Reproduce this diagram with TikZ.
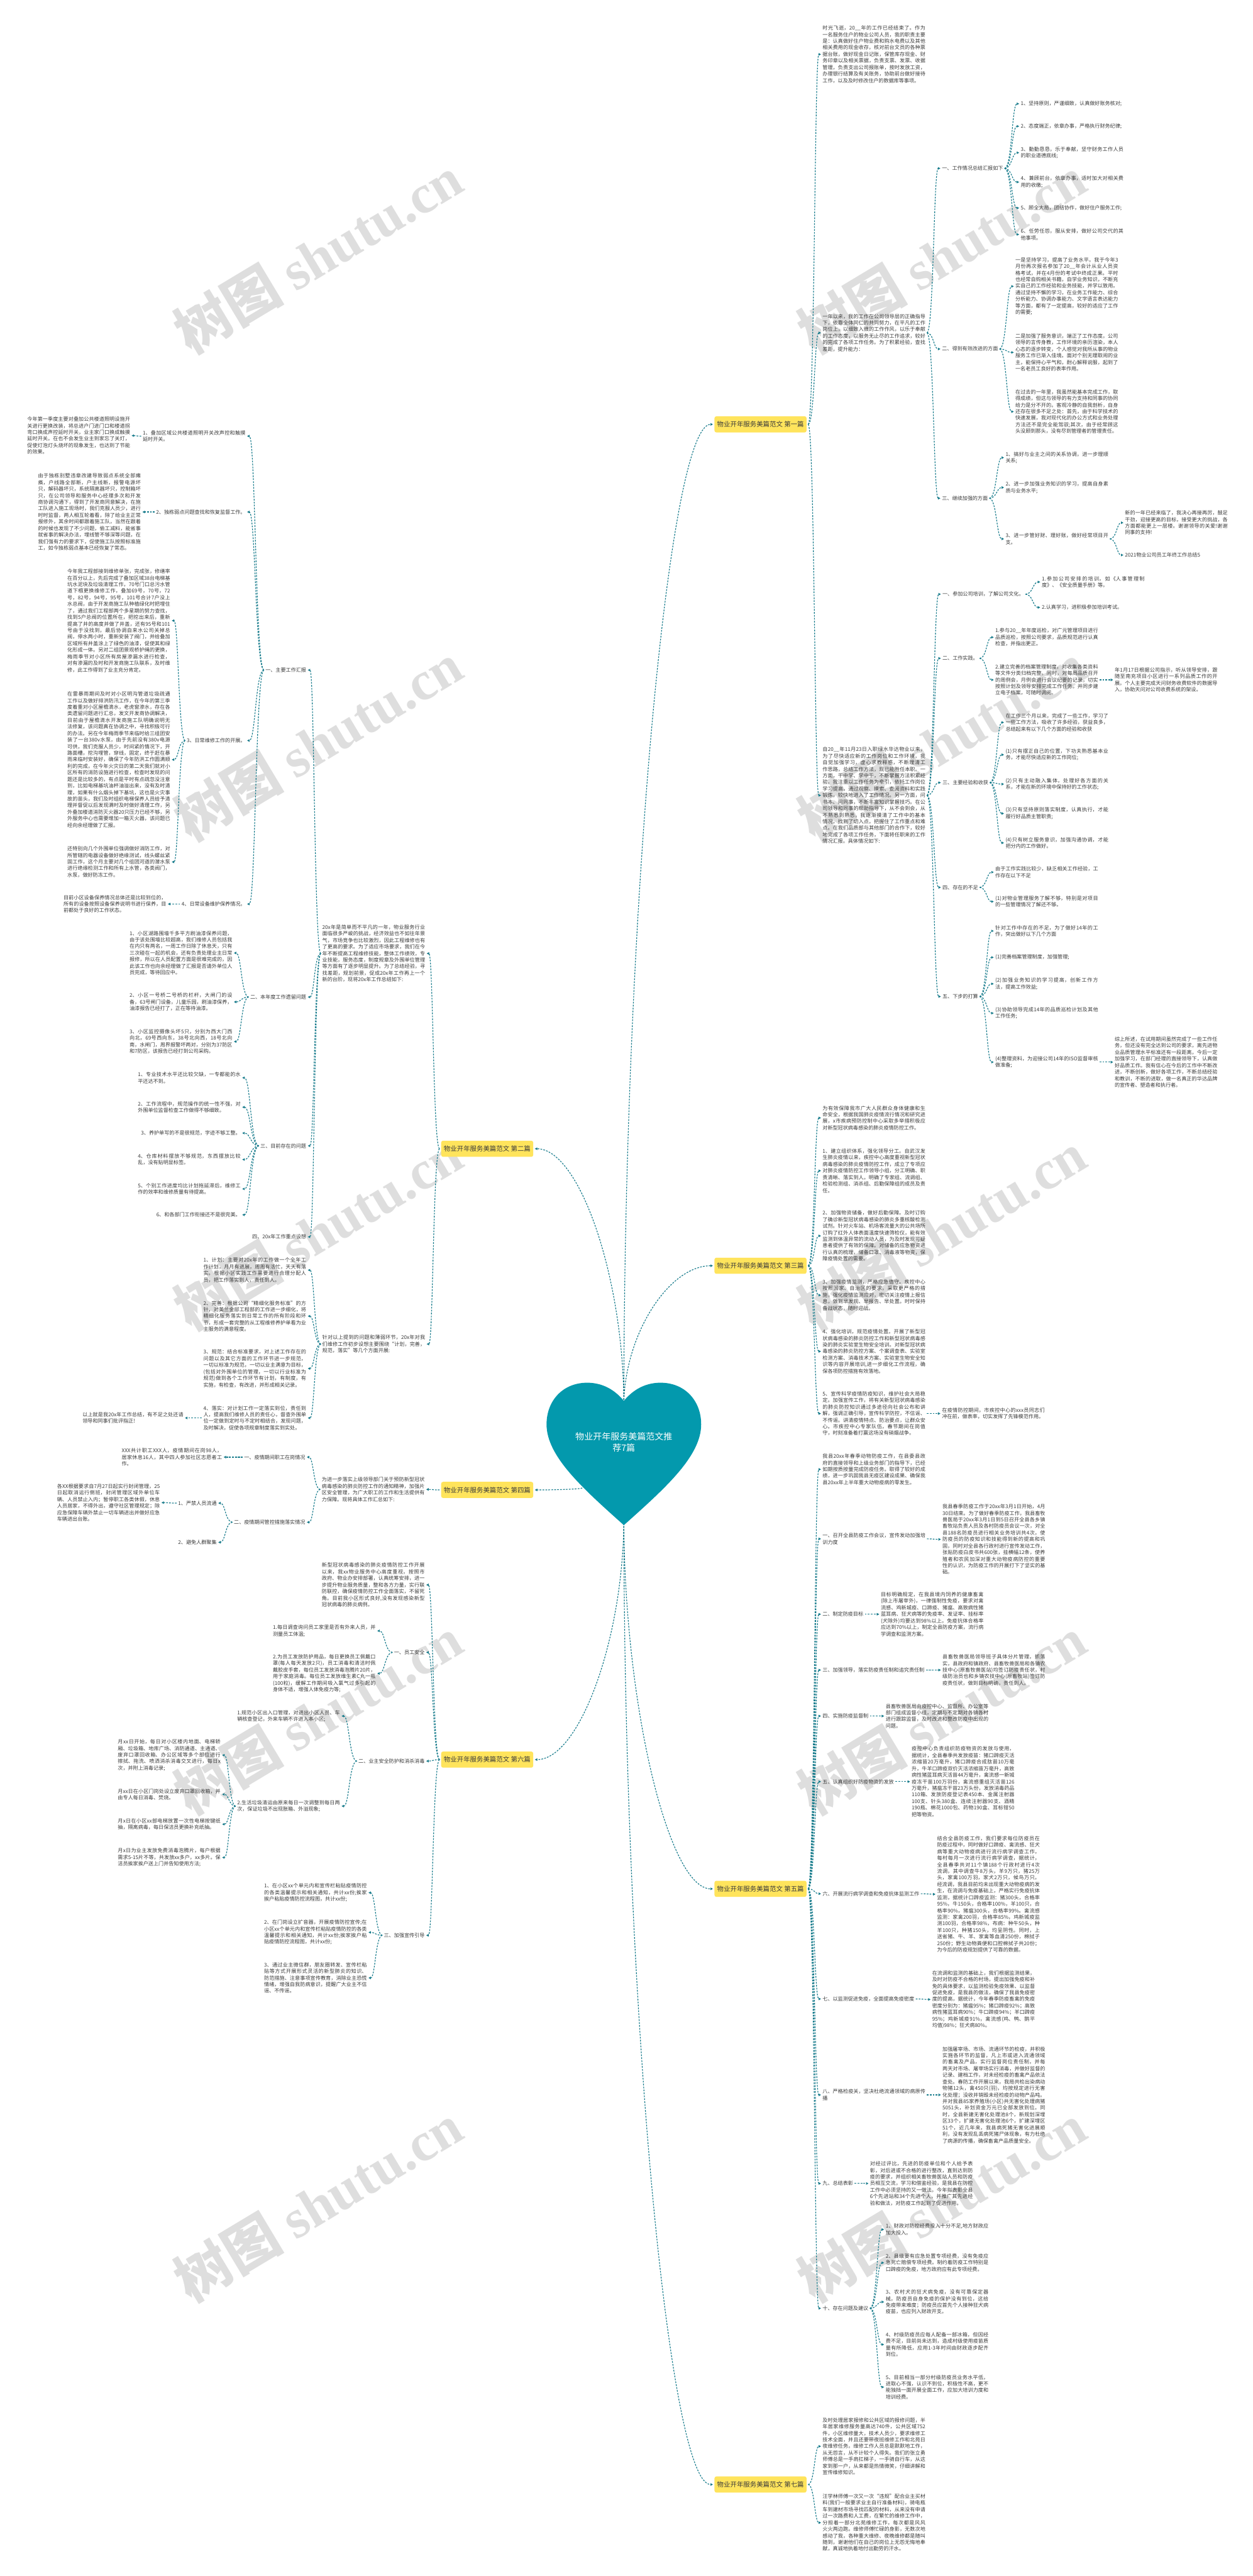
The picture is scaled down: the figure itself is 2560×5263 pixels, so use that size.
\documentclass[tikz,border=0pt]{standalone}
\usepackage{fontspec}
\setmainfont{Noto Sans CJK SC}
\newfontfamily\wmserif{Liberation Serif}
\usetikzlibrary{arrows.meta, calc}
\XeTeXlinebreaklocale "zh"
\XeTeXlinebreakskip = 0pt plus 1pt

\definecolor{txtgray}{RGB}{58,58,58}
\definecolor{linkteal}{RGB}{24,124,140}
\definecolor{heartteal}{RGB}{3,153,173}
\definecolor{pianyellow}{RGB}{255,228,92}
\definecolor{markgray}{RGB}{222,222,222}

\newcommand{\fs}{\fontsize{10.4}{13.4}\selectfont}

\tikzstyle{txtbox} = [inner sep=0pt, text width=210pt, align=justify, font=\fs, text=txtgray]
\tikzstyle{leaf} = [inner sep=0pt, align=left, font=\fs, text=txtgray]
\tikzstyle{pian} = [rectangle, rounded corners=4pt, fill=pianyellow, minimum height=33pt, inner xsep=5.5pt, inner ysep=0pt, font=\fontsize{13.4}{16}\selectfont, text=txtgray]
\tikzstyle{link} = [draw=linkteal, line width=1.5pt, dash pattern=on 3.5pt off 2.5pt, -{Triangle[length=5pt,width=5pt]}]
\tikzstyle{wmark} = [rotate=31, text=markgray, font=\fontsize{112}{112}\selectfont\bfseries, inner sep=0pt]

% right and left tree links
\newcommand{\rlink}[2]{\draw[link] let \p1=($(#1.east)+(3,0)$), \p2=($(#2.west)+(-3,0)$) in (\p1) .. controls ({0.5*\x1+0.5*\x2},\y1) and ({0.5*\x1+0.5*\x2},\y2) .. (\p2);}
\newcommand{\llink}[2]{\draw[link] let \p1=($(#1.west)+(-3,0)$), \p2=($(#2.east)+(3,0)$) in (\p1) .. controls ({0.5*\x1+0.5*\x2},\y1) and ({0.5*\x1+0.5*\x2},\y2) .. (\p2);}
% links out of the heart
\newcommand{\hrlink}[2]{\draw[link] let \p1=(#1), \p2=($(#2.west)+(-3,0)$) in (\p1) .. controls (\x1,{0.5*\y1+0.5*\y2}) and ({0.5*\x1+0.5*\x2},\y2) .. (\p2);}
\newcommand{\hllink}[2]{\draw[link] let \p1=(#1), \p2=($(#2.east)+(3,0)$) in (\p1) .. controls (\x1,{0.5*\y1+0.5*\y2}) and ({0.5*\x1+0.5*\x2},\y2) .. (\p2);}

\begin{document}
\begin{tikzpicture}[x=1pt, y=-1pt]
\fill[white] (0,0) rectangle (2560,5263);
\useasboundingbox (0,0) rectangle (2560,5263);

% watermarks
\foreach \wx in {650,1925}{\foreach \wy in {520,1515,2515,3505,4500}{
  \node[wmark] (wm\wx\wy) at (\wx,\wy) {树图 {\wmserif\bfseries shutu.cn}};}}

% ---------------- 第一篇 ----------------
\node[pian, anchor=west] (p1) at (1460,867) {物业开年服务美篇范文 第一篇};
\node[txtbox, anchor=west] (p1a) at (1681,111) {时光飞逝，20\_\_年的工作已经结束了。作为一名服务住户的物业公司人员，我的职责主要是：认真做好住户物业费和购水电费以及其他相关费用的现金收存，核对前台文员的各种票据台账，做好现金日记账，保管库存现金、财务印章以及相关票据，负责支票、发票、收据管理，负责支出公司报账单，按时发放工资，办理银行结算及有关账务，协助前台做好接待工作，以及及时修改住户的数据库等事项。};
\node[txtbox, anchor=west] (p1b) at (1681,680) {一年以来，我的工作在公司领导层的正确指导下，依靠全体同仁的共同努力，在平凡的工作岗位上，以细致入微的工作作风，以乐于奉献的工作态度，以服务无止尽的工作追求，较好的完成了各项工作任务。为了积累经验，查找差距，提升能力：};
\node[txtbox, anchor=west] (p1c) at (1681,1625) {自20\_\_年11月23日入职绿水华达物业以来，为了尽快适应新的工作岗位和工作环境，我自觉加强学习，虚心求教释惑，不断理清工作思路，总结工作方法，现已能胜任本职。一方面，干中学、学中干，不断掌握方法积累经验。我注重以工作任务为牵引，依托工作岗位学习提高，通过观察、摸索、查阅资料和实践锻炼，较快地进入了工作情况。另一方面，问书本、问同事，不断丰富知识掌握技巧。在公司领导和同事的帮助指导下，从不会到会，从不熟悉到熟悉，我逐渐摸清了工作中的基本情况，找到了切入点，把握住了工作重点和难点。在我们品质部与其他部门的合作下，较好地完成了各项工作任务，下面将任职来的工作情况汇报。具体情况如下:};

\node[leaf, anchor=west] (p1b1) at (1925,344) {一、工作情况总结汇报如下};
\node[leaf, anchor=west] (p1b2) at (1925,713) {二、得到有效改进的方面};
\node[leaf, anchor=west] (p1b3) at (1925,1018) {三、继续加强的方面};
\node[leaf, anchor=west] (p1b1a) at (2086,212) {1、坚持原则，严谨细致，认真做好账务核对;};
\node[leaf, anchor=west] (p1b1b) at (2086,258) {2、态度端正，依章办事，严格执行财务纪律;};
\node[txtbox, anchor=west] (p1b1c) at (2086,312) {3、勤勤恳恳，乐于奉献，坚守财务工作人员的职业道德底线;};
\node[txtbox, anchor=west] (p1b1d) at (2086,372) {4、兼顾前台，依章办事，适时加大对相关费用的收缴;};
\node[leaf, anchor=west] (p1b1e) at (2086,425) {5、顾全大局，团结协作，做好住户服务工作;};
\node[txtbox, anchor=west] (p1b1f) at (2086,479) {6、任劳任怨，服从安排，做好公司交代的其他事项。};
\node[txtbox, anchor=west] (p1b2a) at (2075,585) {一是坚持学习，提高了业务水平。我于今年3月份再次报名参加了20\_\_年会计从业人员资格考试，并在4月份的考试中终成正果。平时也经常自购相关书籍，自学业务知识，不断充实自己的工作经验和业务技能，并学以致用。通过坚持不懈的学习，在业务工作能力、综合分析能力、协调办事能力、文字语言表达能力等方面，都有了一定提高，较好的适应了工作的需要;};
\node[txtbox, anchor=west] (p1b2b) at (2075,720) {二是加强了服务意识，端正了工作态度。公司领导的言传身教，工作环境的亲历渲染，本人心态的逐步转变，个人感觉对我所从事的物业服务工作已渐入佳境。面对个别无理取闹的业主，能保持心平气和，耐心解释说服，起到了一名老员工良好的表率作用。};
\node[txtbox, anchor=west] (p1b2c) at (2075,841) {在过去的一年里，我虽然能基本完成工作，取得成绩，但这与领导的有力支持和同事的协同给力是分不开的。客观冷静的自我剖析，自身还存在很多不足之处：首先，由于科学技术的快速发展，我对现代化的办公方式和业务处理方法还不是完全能驾驭;其次，由于经常顾这头没顾到那头，没有尽到管理者的管理责任。};
\node[txtbox, anchor=west] (p1b3a) at (2055,935) {1、搞好与业主之间的关系协调，进一步理顺关系;};
\node[txtbox, anchor=west] (p1b3b) at (2055,996) {2、进一步加强业务知识的学习，提高自身素质与业务水平;};
\node[txtbox, anchor=west] (p1b3c) at (2055,1101) {3、进一步管好财、理好账，做好经常项目开支。};
\node[txtbox, anchor=west] (p1b3c1) at (2299,1068) {新的一年已经来临了，我决心再接再厉，鼓足干劲，迎接更高的目标，接受更大的挑战，各方面都能更上一层楼。谢谢领导的关爱!谢谢同事的支持!};
\node[leaf, anchor=west] (p1b3c2) at (2299,1134) {2021物业公司员工年终工作总结5};

\node[leaf, anchor=west] (p1c1) at (1926,1214) {一、参加公司培训，了解公司文化。};
\node[leaf, anchor=west] (p1c2) at (1926,1345) {二、工作实践。};
\node[leaf, anchor=west] (p1c3) at (1926,1599) {三、主要经验和收获};
\node[leaf, anchor=west] (p1c4) at (1926,1813) {四、存在的不足};
\node[leaf, anchor=west] (p1c5) at (1926,2036) {五、下步的打算};
\node[txtbox, anchor=west] (p1c1a) at (2129,1189) {1.参加公司安排的培训，如《人事管理制度》、《安全质量手册》等。};
\node[leaf, anchor=west] (p1c1b) at (2129,1241) {2.认真学习，进积极参加培训考试。};
\node[txtbox, anchor=west] (p1c2a) at (2034,1302) {1.参与20\_\_年年度巡检，对广元管理项目进行品质巡检，按照公司要求，品质规范进行认真检查，并指出更正。};
\node[txtbox, anchor=west] (p1c2b) at (2034,1389) {2.建立完善的档案管理制度，对收集各类资料等文件分类归档完整。同时，对每周品质召开的周例会，月例会进行会议纪要的记录，切实按照计划及领导安排完成工作任务。并同步建立电子档案，可随时调阅。};
\node[txtbox, anchor=west] (p1c2b1) at (2278,1389) {年1月17日根据公司指示，听从领导安排，跟随至南充项目小区进行一系列品质工作的开展。个人主要完成天问财务收费软件的数据导入，协助天问对公司收费系统的架设。};
\node[txtbox, anchor=west] (p1c3a) at (2055,1476) {在工作三个月以来，完成了一些工作，学习了一些工作方法，吸收了许多经验，获益良多，总结起来有以下几个方面的经验和收获};
\node[txtbox, anchor=west] (p1c3b) at (2055,1542) {(1)只有摆正自己的位置，下功夫熟悉基本业务，才能尽快适应新的工作岗位;};
\node[txtbox, anchor=west] (p1c3c) at (2055,1602) {(2)只有主动融入集体，处理好各方面的关系，才能在新的环境中保持好的工作状态;};
\node[txtbox, anchor=west] (p1c3d) at (2055,1662) {(3)只有坚持原则落实制度，认真执行，才能履行好品质主管职责;};
\node[txtbox, anchor=west] (p1c3e) at (2055,1722) {(4)只有树立服务意识，加强沟通协调，才能把分内的工作做好。};
\node[txtbox, anchor=west] (p1c4a) at (2034,1782) {由于工作实践比较少，缺乏相关工作经验，工作存在以下不足};
\node[txtbox, anchor=west] (p1c4b) at (2034,1842) {(1)对物业管理服务了解不够，特别是对项目的一些管理情况了解还不够。};
\node[txtbox, anchor=west] (p1c5a) at (2034,1902) {针对工作中存在的不足，为了做好14年的工作，突出做好以下几个方面};
\node[leaf, anchor=west] (p1c5b) at (2034,1956) {(1)完善档案管理制度，加强管理;};
\node[txtbox, anchor=west] (p1c5c) at (2034,2010) {(2)加强业务知识的学习提高，创新工作方法，提高工作效益;};
\node[txtbox, anchor=west] (p1c5d) at (2034,2070) {(3)协助领导完成14年的品质巡检计划及其他工作任务;};
\node[txtbox, anchor=west] (p1c5e) at (2034,2170) {(4)整理资料，为迎接公司14年的ISO监督审核做准备;};
\node[txtbox, anchor=west] (p1c5e1) at (2278,2170) {综上所述，在试用期间虽然完成了一些工作任务，但还没有完全达到公司的要求，离先进物业品质管理水平标准还有一段距离，今后一定加强学习，在部门经理的直接领导下，认真做好品质工作。我有信心在今后的工作中不断改进，不断创新，做好各项工作，不断总结经验和教训，不断的进取，做一名真正的华达品牌的宣传者、塑造者和执行者。};

\foreach \c in {p1a,p1b,p1c} {\rlink{p1}{\c}}
\foreach \c in {p1b1,p1b2,p1b3} {\rlink{p1b}{\c}}
\foreach \c in {p1b1a,p1b1b,p1b1c,p1b1d,p1b1e,p1b1f} {\rlink{p1b1}{\c}}
\foreach \c in {p1b2a,p1b2b,p1b2c} {\rlink{p1b2}{\c}}
\foreach \c in {p1b3a,p1b3b,p1b3c} {\rlink{p1b3}{\c}}
\foreach \c in {p1b3c1,p1b3c2} {\rlink{p1b3c}{\c}}
\foreach \c in {p1c1,p1c2,p1c3,p1c4,p1c5} {\rlink{p1c}{\c}}
\foreach \c in {p1c1a,p1c1b} {\rlink{p1c1}{\c}}
\foreach \c in {p1c2a,p1c2b} {\rlink{p1c2}{\c}}
\rlink{p1c2b}{p1c2b1}
\foreach \c in {p1c3a,p1c3b,p1c3c,p1c3d,p1c3e} {\rlink{p1c3}{\c}}
\foreach \c in {p1c4a,p1c4b} {\rlink{p1c4}{\c}}
\foreach \c in {p1c5a,p1c5b,p1c5c,p1c5d,p1c5e} {\rlink{p1c5}{\c}}
\rlink{p1c5e}{p1c5e1}

% ---------------- 第三篇 ----------------
\node[pian, anchor=west] (p3) at (1460,2586) {物业开年服务美篇范文 第三篇};
\node[txtbox, anchor=west] (p3a) at (1681,2284) {为有效保障我市广大人民群众身体健康和生命安全，根据我国肺炎疫情流行情况和研究进展，x市疾病预防控制中心采取多举措积极应对新型冠状病毒感染的肺炎疫情防控工作。};
\node[txtbox, anchor=west] (p3b) at (1681,2392) {1、建立组织体系，强化领导分工。自武汉发生肺炎疫情以来，疾控中心高度重视新型冠状病毒感染的肺炎疫情防控工作，成立了专项应对肺炎疫情防控工作领导小组，分工明确、职责清晰、落实到人。明确了专家组、流调组、检验检测组、消杀组、后勤保障组的成员及责任。};
\node[txtbox, anchor=west] (p3c) at (1681,2525) {2、加强物资储备，做好后勤保障。及时订购了确诊新型冠状病毒感染的肺炎多重核酸检测试剂。针对火车站、机场客流量大的公共场所订购了红外人体表面温度快速筛检仪，能有效监测到体温异常的流动人员，为及时发现可疑患者提供了有效的保障。对储备的应急物资进行认真的梳理，储备口罩、消毒液等物资，保障疫情处置的需要。};
\node[txtbox, anchor=west] (p3d) at (1681,2646) {3、加强疫情监测，严格应急值守。疾控中心按照国家、自治区的要求，采取更严格的措施，强化疫情监测应对，密切关注疫情上报信息，做到早发现、早报告、早处置。时时保持备战状态，随时迎战。};
\node[txtbox, anchor=west] (p3e) at (1681,2761) {4、强化培训，规范疫情处置。开展了新型冠状病毒感染的肺炎防控工作和新型冠状病毒感染的肺炎实验室生物安全培训。对新型冠状病毒感染的肺炎防控方案、个案调查表、实验室检测方案、消毒技术方案、实验室生物安全知识等内容开展培训,进一步细化工作流程，确保各项防控措施有效落地。};
\node[txtbox, anchor=west] (p3f) at (1681,2888) {5、宣传科学疫情防疫知识，维护社会大局稳定。加强宣传工作，将有关新型冠状病毒感染的肺炎防控知识通过多途径向社会公布和讲解，强调正确引导，宣传科学防控，不信谣、不传谣。讲清疫情特点、防治要点，让群众安心。市疾控中心专家队伍，春节期间在岗值守，时刻准备着打赢这场没有硝烟战争。};
\node[txtbox, anchor=west] (p3f1) at (1925,2888) {在疫情防控期间，市疾控中心的xxx员同志们冲在前，做表率，切实发挥了先锋模范作用。};
\foreach \c in {p3a,p3b,p3c,p3d,p3e,p3f} {\rlink{p3}{\c}}
\rlink{p3f}{p3f1}

% ---------------- 第五篇 ----------------
\node[pian, anchor=west] (p5) at (1460,3859) {物业开年服务美篇范文 第五篇};
\node[txtbox, anchor=west] (p5a) at (1681,3002) {我县20xx年春季动物防疫工作，在县委县政府的直接领导和上级业务部门的指导下，已经如期按质按量完成防疫任务。取得了较好的成绩，进一步巩固我县无疫区建设成果、确保我县20xx年上半年重大动物疫病的零发生。};
\node[txtbox, anchor=west] (p5b) at (1681,3144) {一、召开全县防疫工作会议，宣传发动加强培训力度};
\node[leaf, anchor=west] (p5c) at (1681,3298) {二、制定防疫目标};
\node[leaf, anchor=west] (p5d) at (1681,3412) {三、加强领导，落实防疫责任制和追究责任制};
\node[leaf, anchor=west] (p5e) at (1681,3506) {四、实施防疫监督制};
\node[leaf, anchor=west] (p5f) at (1681,3640) {五、认真组织好防疫物资的发放};
\node[leaf, anchor=west] (p5g) at (1681,3869) {六、开展流行病学调查和免疫抗体监测工作};
\node[leaf, anchor=west] (p5h) at (1681,4084) {七、以监测促进免疫，全面提高免疫密度};
\node[txtbox, anchor=west] (p5i) at (1681,4280) {八、严格检疫关，坚决杜绝流通领域的病原传播};
\node[leaf, anchor=west] (p5j) at (1681,4461) {九、总结表彰};
\node[leaf, anchor=west] (p5k) at (1681,4716) {十、存在问题及建议};
\node[txtbox, anchor=west] (p5b1) at (1926,3145) {我县春季防疫工作于20xx年3月1日开始，4月30日结束。为了做好春季防疫工作，我县畜牧兽医局于20xx年3月1日到5日召开全县各乡镇畜牧站负责人员及各村防疫员会议一次，对全县188名防疫员进行相关业务培训共4次，使防疫员的防疫知识和技能得到新的提高和巩固，同时对全县各行政村进行宣传发动工作，张贴防疫白皮书共600张，挂横幅12条，使养殖者和农民加深对重大动物疫病防控的重要性的认识，为防疫工作的开展打下了坚实的基础。};
\node[txtbox, anchor=west] (p5c1) at (1800,3298) {目标明确规定，在我县境内饲养的健康畜禽(除上市屠宰外)，一律强制性免疫，要求对禽流感、鸡新城疫、口蹄疫、猪瘟、高致病性猪蓝耳病、狂犬病等的免疫率、发证率、挂标率(犬除外)均要达到98\%以上。免疫抗体合格率应达到70\%以上，制定全县防疫方案，流行病学调查和监测方案。};
\node[txtbox, anchor=west] (p5d1) at (1926,3412) {县畜牧兽医局领导班子具体分片管理，抓落实，县政府和镇政府、县畜牧兽医局和各镇农技中心(原畜牧兽医站)均签订防疫责任状，村级防治员也和乡镇农技中心(原畜牧站)签订防疫责任状，做到目标明确，责任到人。};
\node[txtbox, anchor=west] (p5e1) at (1810,3506) {县畜牧兽医局由疫控中心、监督所、办公室等部门组成监督小组，定期与不定期对各镇各村进行跟踪监督，及时改进和整改防疫中出现的问题。};
\node[txtbox, anchor=west] (p5f1) at (1863,3640) {疫控中心负责组织防疫物资的发放与使用，据统计，全县春季共发放疫苗：猪口蹄疫灭活浓缩苗20万毫升，猪口蹄疫合成肽苗10万毫升，牛羊口蹄疫双价灭活浓缩苗万毫升，高致病性猪蓝耳病灭活苗44万毫升，禽流感一新城疫冻干苗100万羽份，禽流感重组灭活苗126万毫升，猪瘟冻干苗23万头份，发放消毒药品110箱、发放防疫登记表450本、金属注射器100支、针头380盒、连续注射器90支、酒精190瓶、棉花1000包、药物190盒、耳标钳50把等物资。};
\node[txtbox, anchor=west] (p5g1) at (1915,3870) {结合全县防疫工作，我们要求每位防疫员在防疫过程中，同时做好口蹄疫、禽流感、狂犬病等重大动物疫病进行流行病学调查工作，每村每月一次进行流行病学调查，据统计，全县春季共对11个镇188个行政村进行4次流调，其中调查牛8万头，羊9万只，猪25万头，家禽100万羽，家犬2万只，候鸟万只。经流调，我县目前均未出现重大动物疫病的发生，在流调与免疫基础上，严格实行免疫抗体监测，据统计口蹄疫监测：猪300头，合格率95\%，牛150头，合格率100\%，羊100只，合格率90\%，猪瘟300头，合格率99\%。禽流感监测：家禽200羽，合格率85\%，鸡新城疫监测100羽，合格率98\%，布病：种牛50头，种羊100只，种猪150头，均呈阴性。同时，上送省猪、牛、羊、家禽等血清250份，棉拭子250份；野生动物粪便和口腔棉拭子共20份；为今后的防疫规划提供了可靠的数据。};
\node[txtbox, anchor=west] (p5h1) at (1905,4085) {在流调和监测的基础上，我们根据监测结果，及时对防疫不合格的村场，提出加强免疫和补免的具体要求，以监测检验免疫效果、以监督促进免疫，是我县的做法，确保了我县免疫密度的提高，据统计，今年春季防疫畜禽的免疫密度分别为：猪瘟95\%；猪口蹄疫92\%；高致病性猪蓝耳病90\%；牛口蹄疫94\%；羊口蹄疫95\%；鸡新城疫91\%，禽流感(鸡、鸭、鹅平均值)98\%；狂犬病80\%。};
\node[txtbox, anchor=west] (p5i1) at (1926,4280) {加强屠宰场、市场、流通环节的检疫，并积极实施各环节的监督，凡上市或进入流通领域的畜禽及产品，实行监督岗位责任制，并每两天对市场、屠宰场实行消毒，并做好监督的记录、建档工作，对未经检疫的畜禽产品依法查处。春防工作开展以来，我局共检出染病动物猪12头，禽450只(羽)，均按规定进行无害化处理；没收并销毁未经检疫的动物产品吨。并对我县85家养殖场(小区)共无害化处理病猪5051头，补划资金万元已全部发放到位。同时，全县新建无害化处理池8个，新规划深埋区33个，扩建无害化处理池6个，扩建深埋区51个，近几年来，我县病死猪无害化进展顺利，没有发现乱丢病死猪尸体现象，有力杜绝了病源的传播，确保畜禽产品质量安全。};
\node[txtbox, anchor=west] (p5j1) at (1778,4461) {对经过评比，先进的防疫单位和个人给予表彰，对后进或不合格的进行整改，直到达到防疫的要求，并组织相关畜牧兽医站人员和防疫员相互交流，学习和借鉴经验，是我县在防控工作中必须坚持的又一做法。今年拟表彰全县6个先进站和34个先进个人，并推广其先进经验和做法，对防疫工作起到了促进作用。};
\node[txtbox, anchor=west] (p5k1) at (1810,4555) {1、财政对防控经费投入十分不足,地方财政应加大投入。};
\node[txtbox, anchor=west] (p5k2) at (1810,4623) {2、县级要有应急处置专项经费，没有免疫应急死亡赔偿专项经费。制约着防疫工作特别是口蹄疫的免疫，地方政府应有此专项经费。};
\node[txtbox, anchor=west] (p5k3) at (1810,4703) {3、农村犬的狂犬病免疫，没有可靠保定器械，防疫员自身免疫的保护没有到位，这给免疫带来难度；防疫员应首先个人接种狂犬病疫苗，也应列入财政开支。};
\node[txtbox, anchor=west] (p5k4) at (1810,4790) {4、村级防疫员应每人配备一部冰箱，但因经费不足，目前尚未达到，造成村级使用疫苗质量有所降低，应用1-3年时间由财政逐步配齐到位。};
\node[txtbox, anchor=west] (p5k5) at (1810,4877) {5、目前相当一部分村级防疫员业务水平低，进取心不强，认识不到位，积极性不高，更不能独挡一面开展全面工作，应加大培训力度和培训经费。};
\foreach \c in {p5a,p5b,p5c,p5d,p5e,p5f,p5g,p5h,p5i,p5j,p5k} {\rlink{p5}{\c}}
\rlink{p5b}{p5b1} \rlink{p5c}{p5c1} \rlink{p5d}{p5d1} \rlink{p5e}{p5e1}
\rlink{p5f}{p5f1} \rlink{p5g}{p5g1} \rlink{p5h}{p5h1} \rlink{p5i}{p5i1}
\rlink{p5j}{p5j1}
\foreach \c in {p5k1,p5k2,p5k3,p5k4,p5k5} {\rlink{p5k}{\c}}

% ---------------- 第七篇 ----------------
\node[pian, anchor=west] (p7) at (1460,5076) {物业开年服务美篇范文 第七篇};
\node[txtbox, anchor=west] (p7a) at (1681,4998) {及时处理居家报修和公共区域的报修问题，半年居家维修服务量高达740件，公共区域752件，小区维修量大，技术人员少，要求维修工技术全面，并且还要带夜班维修工作和北苑日夜维修任务。维修工作人员总是默默地工作，从无怨言，从不计较个人得失。我们的张立勇师傅总是一手肩扛梯子，一手骑自行车，从这家到那一户，从来都是热情微笑，仔细讲解和宣传维修知识。};
\node[txtbox, anchor=west] (p7b) at (1681,5154) {汪学林师傅一次又一次“违规”配合业主买材料(我们一般要求业主自行准备材料)，骑电瓶车到建材市场寻找匹配的材料，从来没有申请过一次路费和人工费，在繁忙的维修工作中，分担着一部分北苑维修工作，每次都是风风火火两边跑。维修师傅忙碌的身影，无数次地感动了我，各种重大维修、夜晚维修都是随叫随到，谢谢他们在自己的岗位上无怨无悔地奉献，真诚地执着地付出勤劳的汗水。};
\rlink{p7}{p7a} \rlink{p7}{p7b}

% ---------------- 第二篇 ----------------
\node[pian, anchor=east] (p2) at (1090,2347) {物业开年服务美篇范文 第二篇};
\node[txtbox, anchor=east] (p2a) at (869,1948) {20x年是简单而不平凡的一年，物业服务行业面临很多严峻的挑战，经济效益也不如往年景气，市场竞争也比较激烈，因此工程维修也有了更高的要求。为了适应市场要求，我们在今年不断提高工程维修技能，整体工作绩效，专业技能，服务态度，制度规章及外围单位管理等方面有了逐步明显提升。为了总结经验，寻找差距，规划前景，促成20x年工作再上一个新的台阶，现将20x年工作总结如下:};
\node[txtbox, anchor=east] (p2b) at (869,2746) {针对以上提到的问题和薄弱环节，20x年对我们维修工作初步设想主要围绕“计划，完善，规范，落实”等几个方面开展:};
\node[leaf, anchor=east] (p2a1) at (626,1369) {一、主要工作汇报};
\node[leaf, anchor=east] (p2a2) at (626,2037) {二、本年度工作遗留问题};
\node[leaf, anchor=east] (p2a3) at (626,2341) {三、目前存在的问题};
\node[leaf, anchor=east] (p2a4) at (626,2527) {四、20x年工作重点设想};
\node[txtbox, anchor=east] (p2a1a) at (502,891) {1、叠加区域公共楼道照明开关改声控和触摸延时开关。};
\node[txtbox, anchor=east] (p2a1a1) at (266,890) {今年第一季度主要对叠加公共楼道照明设施开关进行更换改装，将总进户门进门口和楼道拐弯口换成声控延时开关，业主家门口换成触摸延时开关。在也不会发生业主到家忘了关灯，促使灯泡灯头烧坏的现象发生，也达到了节能的效果。};
\node[leaf, anchor=east] (p2a1b) at (502,1046) {2、独栋弱点问题查找和恢复监督工作。};
\node[txtbox, anchor=east] (p2a1b1) at (288,1046) {由于独栋别墅违章改建导致弱点系统全部瘫痪，户线路全部断，户主线断，报警电源坏只，解码器坏只，系统隔离器坏只，控制箱坏只，在公司领导和服务中心经理多次和开发商协调沟通下，得到了开发商同意解决，在施工队进入施工现场时，我们克服人员少，进行时时监督，两人相互轮着看，除了给业主正常报修外，其余时间都跟着施工队，当然在跟着的时候也发现了不少问题，偷工减料，能省事就省事的解决办法，埋线管不够深等问题，在我们强有力的要求下，促使施工队按照标准施工，如今独栋弱点基本已经恢复了常态。};
\node[leaf, anchor=east] (p2a1c) at (502,1513) {3、日常维修工作的开展。};
\node[txtbox, anchor=east] (p2a1c1) at (348,1268) {今年我工程部接到维修单张，完成张，修缮率在百分以上，先后完成了叠加区域38台电梯基坑水泥块及垃圾清理工作，70号门口总污水管道下榻更换维修工作，叠加69号，70号，72号，82号，94号，95号，101号合计7户没上水总阀，由于开发商施工队种植绿化时把埋住了，通过我们工程部两个多星期的努力查找，找到5户总阀的位置所在，把挖出来后，重新提高了井的高度并做了井盖，还有95号和101号由于没找到，最后协调自来水公司关掉总阀，停水两小时，重新安装了阀门，并给叠加区域所有井盖涂上了绿色的油漆，促使其和绿化形成一体。另对二组团景观桥护绳的更换，梅雨季节对小区所有房屋渗漏水进行检查，对有渗漏的及时和开发商施工队联系，及时维修，此工作得到了业主充分肯定。};
\node[txtbox, anchor=east] (p2a1c2) at (348,1552) {在雷暴雨期间及时对小区明沟管道垃圾疏通工作以及做好排洪防汛工作，在今年的第三季度着重对小区屋檐滴水，老虎窗渗水，存在各类遗留问题进行汇总，发文开发商协调解决，目前由于屋檐滴水开发商施工队明确说明无法修复，该问题真在协调之中，寻找积极可行的办法。另在今年梅雨季节来临时给三组团安装了一台380v水泵，由于先前没有380v电源可供，我们克服人员少，时间紧的情况下，开路面槽，挖沟埋管，穿线，固定，终于赶在暴雨来临时安装好，确保了今年防洪工作圆满顺利的完成，在今年火灾日的第二天我们就对小区所有的消防设施进行检查，检查时发现的问题还是比较多的，有点是平时有点疏忽没注意到，比如电梯基坑油杯油溢出来，没有及时清理，如果有什么烟头掉下基坑，这也是火灾事故的苗头，我们及时组织电梯保养人员给予清理并督促以后发现满时及时做好清理工作，另外叠加楼道消防灭火器20只压力已经不够，另外服务中心也需要增加一箱灭火器，该问题已经向余经理做了汇报。};
\node[txtbox, anchor=east] (p2a1c3) at (348,1761) {还特别向几个外围单位强调做好消防工作，对所管辖的电器设备做好绝缘测试，线头螺丝紧固工作，这个月主要对几个组团河道的潜水泵进行绝缘检测工作和所有上水管，各类阀门，水泵，做好防冻工作。};
\node[leaf, anchor=east] (p2a1d) at (502,1847) {4、日常设备维护保养情况。};
\node[txtbox, anchor=east] (p2a1d1) at (340,1847) {目前小区设备保养情况总体还是比较到位的，所有的设备按照设备保养说明书进行保养，目前都处于良好的工作状态。};
\node[txtbox, anchor=east] (p2a2a) at (475,1947) {1、小区湖路围墙千多平方刷油漆保养问题，由于该处围墙比较超高，我们维修人员包括我在内只有两名，一周工作日除了休息天，只有三次碰在一起的机会，还有负责处理业主日常报修，所以在人员配置方面是很难完成的，因此该工作也向余经理做了汇报是否请外单位人员完成，等待回应中。};
\node[txtbox, anchor=east] (p2a2b) at (475,2047) {2、小区一号桥二号桥的栏杆，大闸门的设备，63号闸门设备，儿童乐园，刷油漆保养，油漆报告已经打了，正在等待油漆。};
\node[txtbox, anchor=east] (p2a2c) at (475,2128) {3、小区监控摄像头坏5只，分别为西大门西向北，69号西向东，38号北向西，18号北向南，水闸门，周界报警坏两对，分别为37防区和7防区，该报告已经打到公司采购。};
\node[txtbox, anchor=east] (p2a3a) at (492,2202) {1、专业技术水平还比较欠缺，一专都能的水平还达不到。};
\node[txtbox, anchor=east] (p2a3b) at (492,2262) {2、工作流程中，规范操作的统一性不强，对外围单位监督检查工作做得不够细致。};
\node[leaf, anchor=east] (p2a3c) at (492,2315) {3、养护单写的不是很规范，字迹不够工整。};
\node[txtbox, anchor=east] (p2a3d) at (492,2369) {4、仓库材料摆放不够规范，东西摆放比较乱，没有贴明显标签。};
\node[txtbox, anchor=east] (p2a3e) at (492,2429) {5、个别工作进度均比计划拖延滞后，维修工作的效率和维修质量有待提高。};
\node[leaf, anchor=east] (p2a3f) at (492,2482) {6、和各部门工作衔接还不是很完美。};
\node[txtbox, anchor=east] (p2b1) at (626,2595) {1、计划：主要对20x年的工作做一个全年工作计划，月月有进展，周周有活忙，天天有落实。根据小区实践工作需要进行合理分配人员，把工作落实到人，责任到人。};
\node[txtbox, anchor=east] (p2b2) at (626,2689) {2、完善：根据公司“精细化服务标准”的方针，对美兰金邸工程部的工作进一步细化，将精细化服务落实到日常工作的所有阶段和环节，形成一套完整的从工程维修养护单看为业主服务的满意程度。};
\node[txtbox, anchor=east] (p2b3) at (626,2796) {3、规范：结合标准要求，对上述工作存在的问题以及其它方面的工作环节进一步规范，一切以标准为规范，一切以业主满意为目标，(包括对外围单位的管理，一切以行业标准为规范)做到各个工作环节有计划，有制度，有实施，有检查，有改进，并形成相关记录。};
\node[txtbox, anchor=east] (p2b4) at (626,2897) {4、落实：对计划工作一定落实到位，责任到人，提高我们维修人员的责任心，督查外围单位一定做到定时与不定时相结合，发现问题，及时解决，促使各项规章制度落实到实处。};
\node[txtbox, anchor=east, text width=206pt] (p2b41) at (375,2897) {以上就是我20x年工作总结，有不足之处还请领导和同事们批评指正!};
\llink{p2}{p2a} \llink{p2}{p2b}
\foreach \c in {p2a1,p2a2,p2a3,p2a4} {\llink{p2a}{\c}}
\foreach \c in {p2a1a,p2a1b,p2a1c,p2a1d} {\llink{p2a1}{\c}}
\llink{p2a1a}{p2a1a1} \llink{p2a1b}{p2a1b1} \llink{p2a1d}{p2a1d1}
\foreach \c in {p2a1c1,p2a1c2,p2a1c3} {\llink{p2a1c}{\c}}
\foreach \c in {p2a2a,p2a2b,p2a2c} {\llink{p2a2}{\c}}
\foreach \c in {p2a3a,p2a3b,p2a3c,p2a3d,p2a3e,p2a3f} {\llink{p2a3}{\c}}
\foreach \c in {p2b1,p2b2,p2b3,p2b4} {\llink{p2b}{\c}}
\llink{p2b4}{p2b41}

% ---------------- 第四篇 ----------------
\node[pian, anchor=east] (p4) at (1090,3044) {物业开年服务美篇范文 第四篇};
\node[txtbox, anchor=east] (p4a) at (868,3043) {为进一步落实上级领导部门关于预防新型冠状病毒感染的肺炎防控工作的通知精神，加强片区安全管理，为广大职工的工作和生活提供有力保障。现将具体工作汇总如下:};
\node[leaf, anchor=east] (p4a1) at (624,2977) {一、疫情期间职工在岗情况};
\node[leaf, anchor=east] (p4a2) at (624,3110) {二、疫情期间管控措施落实情况};
\node[txtbox, anchor=east, text width=205pt] (p4a11) at (454,2977) {XXX共计职工XXX人，疫情期间在岗98人，居家休息16人，其中四人参加社区志愿者工作。};
\node[leaf, anchor=east] (p4a21) at (443,3071) {1、严禁人员流通};
\node[leaf, anchor=east] (p4a22) at (443,3151) {2、避免人群聚集};
\node[txtbox, anchor=east] (p4a211) at (327,3070) {各XX根据要求自7月27日起实行封闭管理，25日起取消运行倒班，封闭管理区域外单位车辆、人员禁止入内；暂停职工各类休假，休息人员居家，不得外出，遵守社区管理规定；除应急保障车辆外禁止一切车辆进出并做好应急车辆进出台账。};
\llink{p4}{p4a}
\llink{p4a}{p4a1} \llink{p4a}{p4a2}
\llink{p4a1}{p4a11}
\llink{p4a2}{p4a21} \llink{p4a2}{p4a22}
\llink{p4a21}{p4a211}

% ---------------- 第六篇 ----------------
\node[pian, anchor=east] (p6) at (1090,3595) {物业开年服务美篇范文 第六篇};
\node[txtbox, anchor=east] (p6a) at (868,3238) {新型冠状病毒感染的肺炎疫情防控工作开展以来，我xx物业服务中心高度重视，按照市政府、物业办安排部署，认真统筹安排，进一步提升物业服务质量，整和各方力量，实行联防联控，确保疫情防控工作全面落实，不留死角。目前我小区形式良好,没有发现感染新型冠状病毒的肺炎病例。};
\node[leaf, anchor=east] (p6b) at (868,3376) {一、员工安全};
\node[leaf, anchor=east] (p6c) at (868,3598) {二、业主安全防护和消杀消毒};
\node[leaf, anchor=east] (p6d) at (868,3954) {三、加强宣传引导};
\node[txtbox, anchor=east] (p6b1) at (768,3332) {1.每日调查询问员工家里是否有外来人员，并测量员工体温;};
\node[txtbox, anchor=east] (p6b2) at (768,3419) {2.为员工发放防护用品，每日更换员工佩戴口罩(每人每天发放2只)，员工消毒和清洁时佩戴胶皮手套，每位员工发放消毒泡腾片20片，用于家庭消毒。每位员工发放维生素C丸一瓶(100粒)，缓解工作期间吸入氯气过多引起的身体不适，增强人体免疫力等;};
\node[txtbox, anchor=east] (p6c1) at (695,3506) {1.规范小区出入口管理，对进出小区人员、车辆核查登记，外来车辆不许进入本小区;};
\node[txtbox, anchor=east] (p6c2) at (695,3690) {2.生活垃圾清运由原来每日一次调整到每日两次，保证垃圾不出现胀箱、外溢现象;};
\node[txtbox, anchor=east] (p6c21) at (451,3586) {月xx日开始，每日对小区楼内地面、电梯轿厢、垃圾箱、地库广场、消防通道、主通道、废弃口罩回收箱、办公区域等多个部位进行擦拭、拖洗、喷洒消杀消毒交叉进行，每日x次，并附上消毒记录;};
\node[txtbox, anchor=east] (p6c22) at (451,3666) {月xx日在小区门岗处设立废弃口罩回收箱，并由专人每日消毒、焚烧。};
\node[txtbox, anchor=east] (p6c23) at (451,3727) {月x日在小区xx部电梯放置一次性电梯按键纸抽，隔离病毒，每日保洁员更换补充纸抽。};
\node[txtbox, anchor=east] (p6c24) at (451,3795) {月x日为业主发放免费消毒泡腾片，每户根据需求5-15片不等，共发放xx多户，xx多片。保洁员挨家挨户送上门并告知使用方法;};
\node[txtbox, anchor=east] (p6d1) at (750,3867) {1、在小区xx个单元内和宣传栏粘贴疫情防控的各类温馨提示和相关通知，共计xx份;挨家挨户粘贴疫情防控流程图，共计xx份;};
\node[txtbox, anchor=east] (p6d2) at (750,3948) {2、在门岗设立扩音器，开展疫情防控宣传;在小区xx个单元内和宣传栏粘贴疫情防控的各类温馨提示和相关通知，共计xx份;挨家挨户粘贴疫情防控流程图，共计xx份;};
\node[txtbox, anchor=east] (p6d3) at (750,4041) {3、通过业主微信群，朋友圈转发、宣传栏粘贴等方式开展形式灵活的新型肺炎的知识、防范措施、注意事项宣传教育，消除业主恐慌情绪，增强自我防病意识，提醒广大业主不信谣、不传谣。};
\foreach \c in {p6a,p6b,p6c,p6d} {\llink{p6}{\c}}
\llink{p6b}{p6b1} \llink{p6b}{p6b2}
\llink{p6c}{p6c1} \llink{p6c}{p6c2}
\foreach \c in {p6c21,p6c22,p6c23,p6c24} {\llink{p6c2}{\c}}
\foreach \c in {p6d1,p6d2,p6d3} {\llink{p6d}{\c}}

% ---------------- heart ----------------
\coordinate (notch) at (1275,2872);
\coordinate (hleft) at (1190,3040);
\coordinate (tip) at (1275,3100);
\hrlink{notch}{p1} \hllink{notch}{p2} \hrlink{notch}{p3}
\hllink{hleft}{p4}
\hrlink{tip}{p5} \hllink{tip}{p6} \hrlink{tip}{p7}
\fill[heartteal] (1275,2862) .. controls (1255,2838) and (1230,2825) .. (1200,2825)
  .. controls (1150,2825) and (1117,2862) .. (1117,2910)
  .. controls (1117,2975) and (1190,3040) .. (1275,3116)
  .. controls (1360,3040) and (1433,2975) .. (1433,2910)
  .. controls (1433,2862) and (1400,2825) .. (1350,2825)
  .. controls (1320,2825) and (1295,2838) .. (1275,2862) -- cycle;
\node[text=white, align=center, inner sep=0pt, font=\fontsize{18}{23}\selectfont] (core) at (1275,2947) {物业开年服务美篇范文推\\荐7篇};
\end{tikzpicture}
\end{document}
